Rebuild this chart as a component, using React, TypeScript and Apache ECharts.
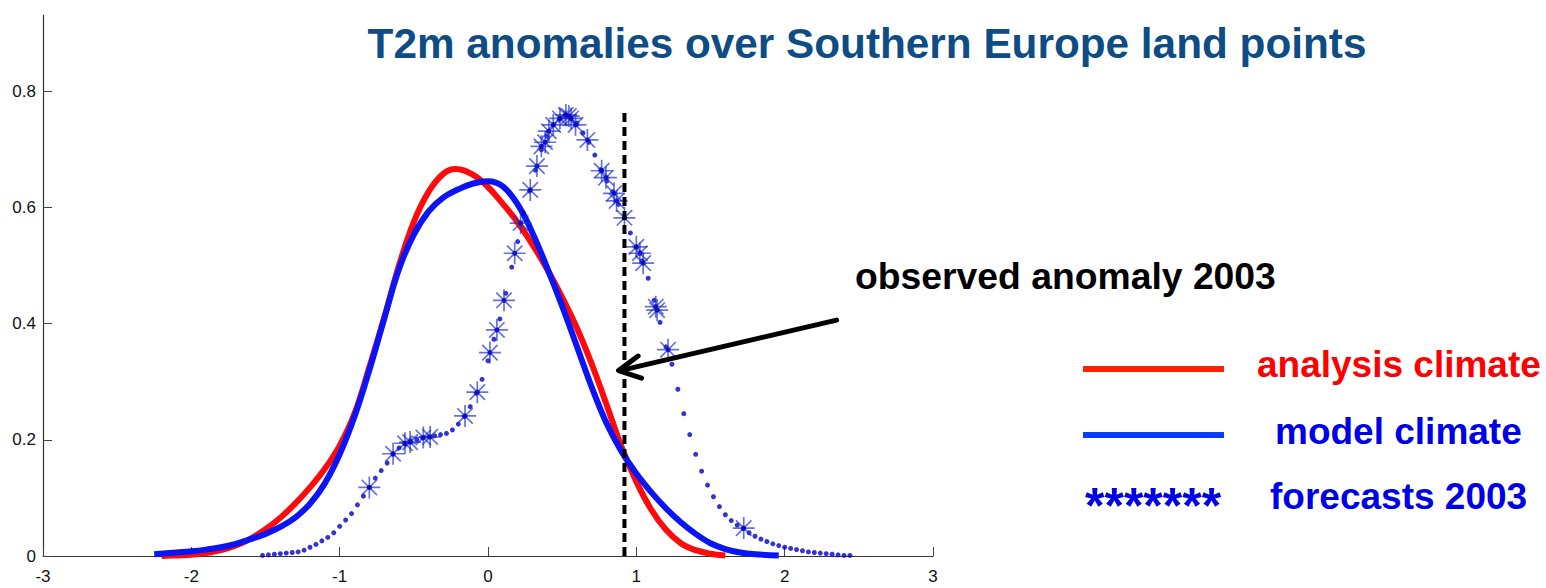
import React, { useEffect, useRef } from "react";
import * as echarts from "echarts";

// Axis ticks
const X_TICKS = [-3, -2, -1, 0, 1, 2, 3];
const Y_TICKS = [0, 0.2, 0.4, 0.6, 0.8];

// Probability density of T2m anomalies, analysis climate
const analysisClimate: [number, number][] = [
  [-2.2, 0.0], [-2.1, 0.001], [-2.0, 0.002], [-1.9, 0.005], [-1.8, 0.01],
  [-1.7, 0.018], [-1.6, 0.03], [-1.5, 0.046], [-1.4, 0.066], [-1.3, 0.09],
  [-1.2, 0.118], [-1.1, 0.15], [-1.0, 0.19], [-0.9, 0.245], [-0.8, 0.325],
  [-0.7, 0.41], [-0.6, 0.5], [-0.5, 0.575], [-0.4, 0.627], [-0.3, 0.658],
  [-0.22, 0.666], [-0.1, 0.656], [0.0, 0.635], [0.1, 0.606], [0.2, 0.574],
  [0.3, 0.536], [0.4, 0.493], [0.5, 0.445], [0.6, 0.392], [0.7, 0.33],
  [0.8, 0.26], [0.9, 0.188], [1.0, 0.128], [1.1, 0.08], [1.2, 0.045],
  [1.3, 0.022], [1.4, 0.01], [1.5, 0.004], [1.6, 0.001],
];

// Probability density, model climate
const modelClimate: [number, number][] = [
  [-2.25, 0.003], [-2.1, 0.006], [-2.0, 0.008], [-1.9, 0.011], [-1.8, 0.015],
  [-1.7, 0.021], [-1.6, 0.029], [-1.5, 0.038], [-1.4, 0.05], [-1.3, 0.066],
  [-1.2, 0.09], [-1.1, 0.125], [-1.0, 0.175], [-0.9, 0.24], [-0.8, 0.32],
  [-0.7, 0.408], [-0.6, 0.494], [-0.5, 0.553], [-0.4, 0.593], [-0.3, 0.617],
  [-0.2, 0.631], [-0.1, 0.641], [0.0, 0.645], [0.1, 0.636], [0.2, 0.605],
  [0.3, 0.556], [0.4, 0.495], [0.5, 0.43], [0.6, 0.36], [0.7, 0.29],
  [0.8, 0.228], [0.9, 0.18], [1.0, 0.142], [1.1, 0.11], [1.2, 0.082],
  [1.3, 0.058], [1.4, 0.038], [1.5, 0.022], [1.6, 0.012], [1.7, 0.006],
  [1.8, 0.003], [1.96, 0.001],
];

// Density of the 2003 forecasts (dotted curve)
const forecasts2003: [number, number][] = [
  [-1.52, 0.001], [-1.48, 0.002], [-1.44, 0.003], [-1.4, 0.004], [-1.36, 0.005],
  [-1.32, 0.006], [-1.28, 0.007], [-1.24, 0.01], [-1.2, 0.015], [-1.16, 0.02],
  [-1.12, 0.026], [-1.08, 0.032], [-1.04, 0.04], [-1.0, 0.051], [-0.96, 0.062],
  [-0.92, 0.073], [-0.88, 0.088], [-0.84, 0.103], [-0.8, 0.118], [-0.76, 0.134],
  [-0.72, 0.147], [-0.68, 0.16], [-0.64, 0.175], [-0.6, 0.186], [-0.56, 0.193],
  [-0.52, 0.198], [-0.48, 0.2], [-0.44, 0.203], [-0.4, 0.205], [-0.36, 0.207],
  [-0.32, 0.209], [-0.28, 0.211], [-0.24, 0.217], [-0.2, 0.227], [-0.16, 0.24],
  [-0.12, 0.257], [-0.08, 0.28], [-0.04, 0.304], [0.0, 0.336], [0.04, 0.373],
  [0.08, 0.408], [0.12, 0.452], [0.16, 0.497], [0.2, 0.541], [0.24, 0.59],
  [0.28, 0.628], [0.32, 0.664], [0.36, 0.699], [0.4, 0.722], [0.44, 0.742],
  [0.48, 0.752], [0.52, 0.758], [0.56, 0.754], [0.6, 0.745], [0.64, 0.728],
  [0.68, 0.712], [0.72, 0.69], [0.76, 0.665], [0.8, 0.645], [0.84, 0.627],
  [0.88, 0.605], [0.92, 0.582], [0.96, 0.556], [1.0, 0.532], [1.04, 0.508],
  [1.08, 0.478], [1.12, 0.44], [1.16, 0.402], [1.2, 0.36], [1.24, 0.33],
  [1.28, 0.287], [1.32, 0.245], [1.36, 0.209], [1.4, 0.175], [1.44, 0.146],
  [1.48, 0.122], [1.52, 0.102], [1.56, 0.085], [1.6, 0.071], [1.64, 0.061],
  [1.68, 0.053], [1.72, 0.047], [1.76, 0.04], [1.8, 0.034], [1.84, 0.029],
  [1.88, 0.025], [1.92, 0.021], [1.96, 0.018], [2.0, 0.015], [2.04, 0.013],
  [2.08, 0.011], [2.12, 0.009], [2.16, 0.007], [2.2, 0.006], [2.24, 0.005],
  [2.28, 0.004], [2.32, 0.003], [2.36, 0.002], [2.4, 0.001], [2.44, 0.001],
];

// Individual 2003 forecast members (asterisks)
const forecastMembers: [number, number][] = [
  [-0.8, 0.118], [-0.64, 0.176], [-0.56, 0.194], [-0.525, 0.196], [-0.436, 0.204],
  [-0.39, 0.205], [-0.155, 0.241], [-0.072, 0.282], [0.013, 0.35], [0.06, 0.389],
  [0.108, 0.44], [0.18, 0.521], [0.22, 0.573], [0.285, 0.63], [0.33, 0.671],
  [0.36, 0.705], [0.385, 0.712], [0.41, 0.731], [0.44, 0.742], [0.485, 0.753],
  [0.525, 0.759], [0.545, 0.757], [0.56, 0.753], [0.59, 0.742], [0.67, 0.716],
  [0.766, 0.663], [0.795, 0.651], [0.85, 0.624], [0.867, 0.611], [0.92, 0.582],
  [1.0, 0.532], [1.024, 0.521], [1.046, 0.504], [1.131, 0.429], [1.14, 0.423],
  [1.214, 0.355], [1.724, 0.048],
];

// Observed 2003 anomaly
const OBSERVED_ANOMALY = 0.92;
const OBSERVED_LINE_TOP = 0.77;

// Annotation arrow, in axis units
const arrowShaft: [number, number][] = [[2.35, 0.406], [0.89, 0.319]];
const arrowHead: [number, number][] = [[1.012, 0.344], [0.88, 0.319], [1.035, 0.306]];

const FONT = '"Liberation Sans", Arial, Helvetica, sans-serif';
const STAR_PATH = "path://M10 0L10 20M0 10L20 10M3 3L17 17M3 17L17 3";

export default function App() {
  const ref = useRef<HTMLDivElement>(null);

  useEffect(() => {
    if (!ref.current) return;
    const chart = echarts.init(ref.current, undefined, { renderer: "svg" });

    const boldText = (
      text: string,
      x: number,
      y: number,
      size: number,
      fill: string,
      align: string = "left"
    ) => ({
      type: "text",
      x,
      y,
      silent: true,
      style: {
        text,
        fill,
        font: `bold ${size}px ${FONT}`,
        textAlign: align,
        textVerticalAlign: "middle",
      },
    });

    chart.setOption({
      animation: false,
      backgroundColor: "#ffffff",
      grid: { left: 43, right: 613, top: 15, bottom: 32, containLabel: false },
      xAxis: {
        type: "value",
        min: -3,
        max: 3,
        interval: 1,
        axisLine: { show: true, onZero: false, lineStyle: { color: "#333", width: 1.2 } },
        axisTick: { show: true, inside: true, length: 9, lineStyle: { color: "#444" } },
        axisLabel: { color: "#111", fontSize: 17, margin: 12, fontFamily: FONT },
        splitLine: { show: false },
      },
      yAxis: {
        type: "value",
        min: 0,
        max: 0.931,
        axisLine: { show: true, onZero: false, lineStyle: { color: "#333", width: 1.2 } },
        axisTick: {
          show: true,
          inside: true,
          length: 9,
          customValues: Y_TICKS,
          lineStyle: { color: "#444" },
        },
        axisLabel: {
          color: "#111",
          fontSize: 17,
          margin: 7,
          fontFamily: FONT,
          customValues: Y_TICKS,
          formatter: (v: number) => (v === 0 ? "0" : v.toFixed(1)),
        },
        splitLine: { show: false },
      },
      series: [
        {
          name: "analysis climate",
          type: "line",
          data: analysisClimate,
          smooth: 0.4,
          symbol: "none",
          lineStyle: { color: "#ff0a0a", width: 6 },
          z: 2,
        },
        {
          name: "model climate",
          type: "line",
          data: modelClimate,
          smooth: 0.4,
          symbol: "none",
          lineStyle: { color: "#0a14f5", width: 6 },
          z: 3,
        },
        {
          name: "forecasts 2003",
          type: "scatter",
          data: forecasts2003,
          symbol: "circle",
          symbolSize: 5,
          itemStyle: { color: "#0000c8" },
          z: 4,
        },
        {
          name: "forecast members",
          type: "scatter",
          data: forecastMembers,
          symbol: STAR_PATH,
          symbolSize: 22,
          itemStyle: {
            color: "rgba(0,0,0,0)",
            borderColor: "rgba(30,45,205,0.85)",
            borderWidth: 1.7,
          },
          z: 5,
        },
        {
          name: "forecast member centres",
          type: "scatter",
          data: forecastMembers,
          symbol: "circle",
          symbolSize: 5,
          silent: true,
          itemStyle: { color: "#0000c0" },
          z: 5,
        },
        {
          name: "observed anomaly",
          type: "line",
          data: [
            [OBSERVED_ANOMALY, 0],
            [OBSERVED_ANOMALY, OBSERVED_LINE_TOP],
          ],
          symbol: "none",
          lineStyle: { color: "#000", width: 4, type: [9, 5] },
          z: 6,
        },
        {
          name: "arrow shaft",
          type: "line",
          data: arrowShaft,
          symbol: "none",
          silent: true,
          lineStyle: { color: "#000", width: 5, cap: "round" },
          z: 7,
        },
        {
          name: "arrow head",
          type: "line",
          data: arrowHead,
          symbol: "none",
          silent: true,
          lineStyle: { color: "#000", width: 5, cap: "round", join: "round" },
          z: 7,
        },
      ],
      graphic: [
        boldText("T2m anomalies over Southern Europe land points", 867, 43, 42.3, "#0e4c85", "center"),
        boldText("observed anomaly 2003", 855, 276, 37.3, "#000"),
        {
          type: "line",
          silent: true,
          shape: { x1: 1083, y1: 369, x2: 1224, y2: 369 },
          style: { stroke: "#ff2200", lineWidth: 6 },
        },
        {
          type: "line",
          silent: true,
          shape: { x1: 1083, y1: 435, x2: 1224, y2: 435 },
          style: { stroke: "#0a3cff", lineWidth: 6 },
        },
        boldText("analysis climate", 1257, 364, 37, "#ff0000"),
        boldText("model climate", 1275, 431, 37, "#0000e6"),
        boldText("*******", 1085, 506, 50, "#0000e6"),
        boldText("forecasts 2003", 1270, 496, 37, "#0000e6"),
      ],
    });

    return () => chart.dispose();
  }, []);

  return (
    <div
      ref={ref}
      style={{ position: "fixed", left: 0, top: 0, width: 1546, height: 588, background: "#fff" }}
    />
  );
}
